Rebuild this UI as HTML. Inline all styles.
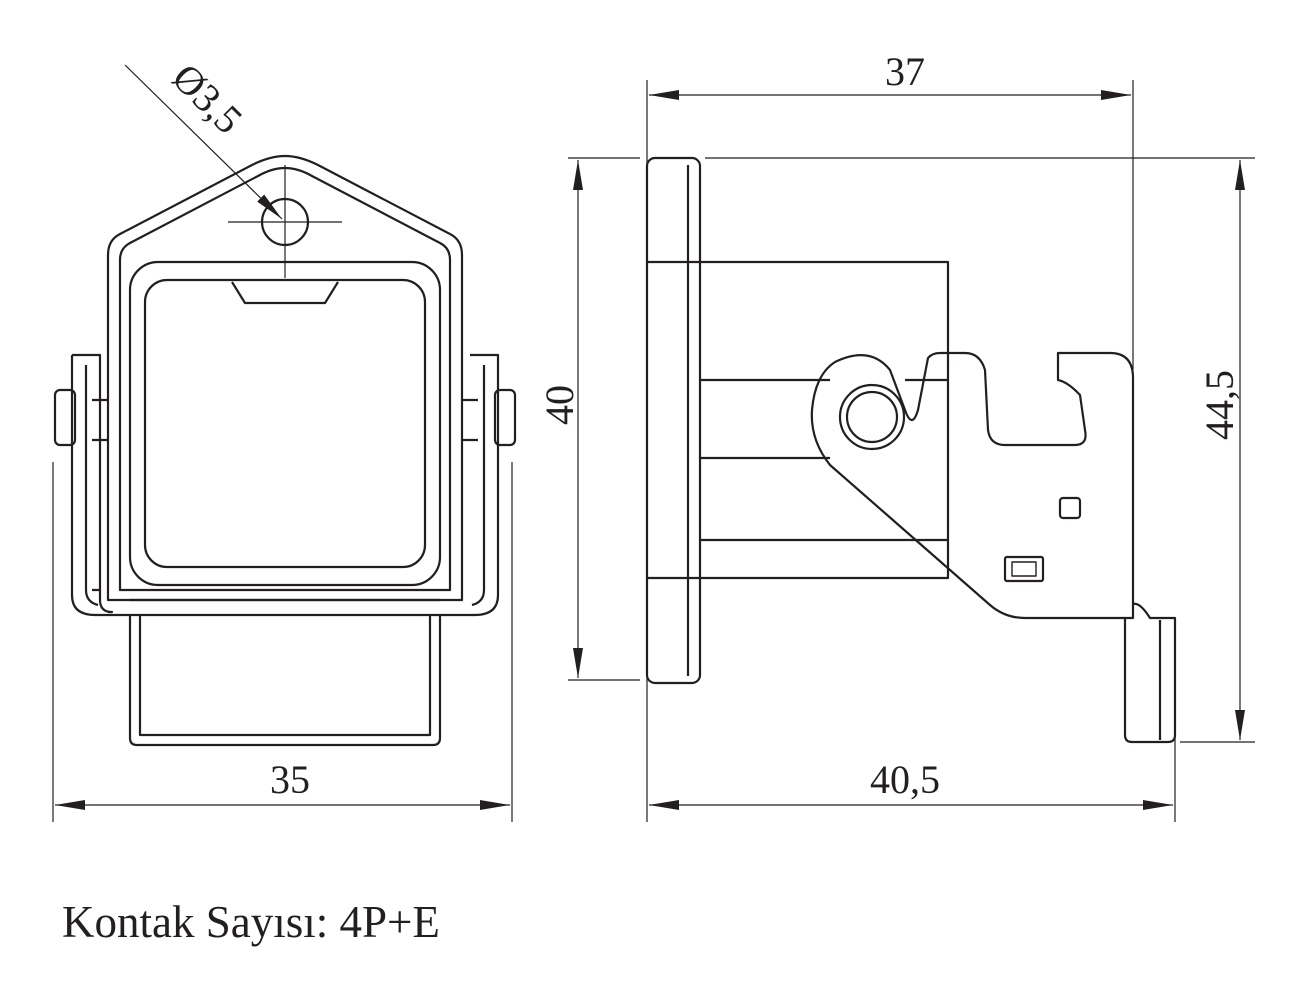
<!DOCTYPE html>
<html><head><meta charset="utf-8"><style>
html,body{margin:0;padding:0;background:#fff;}
svg{display:block}
text{font-family:"Liberation Serif",serif;fill:#231f20}
</style></head><body>
<svg width="1310" height="1000" viewBox="0 0 1310 1000" xmlns="http://www.w3.org/2000/svg">
<defs>
<marker id="a" viewBox="0 0 30 10" refX="30" refY="5" markerWidth="30" markerHeight="10" markerUnits="userSpaceOnUse" orient="auto"><path d="M0,0 L30,5 L0,10 z" fill="#231f20"/></marker>
</defs>
<g fill="none" stroke="#231f20" stroke-width="2.2" stroke-linejoin="round">
<path d="M108,255 L108,600 L462,600 L462,255 Q462,240 450,234 L318,165 Q300,156 285,156 Q270,156 252,165 L120,234 Q108,240 108,255 Z"/>
<path d="M120,260 L120,590 L450,590 L450,260 Q450,248 440,243 L312,176 Q298,168 285,168 Q272,168 258,176 L130,243 Q120,248 120,260 Z"/>
<rect x="130" y="262" width="310" height="323" rx="28"/>
<rect x="145" y="280" width="280" height="287" rx="22"/>
<path d="M232,282 L245,303 L325,303 L338,282"/>
<path d="M72,355 L100,355 L100,600 Q100,612 112,612 L108,612"/>
<path d="M72,355 L72,595 Q72,615 95,615 L475,615 Q498,615 498,595 L498,355 L470,355"/>
<path d="M86,365 L86,590 Q86,602 98,605"/>
<path d="M484,365 L484,590 Q484,602 472,605"/>
<rect x="55" y="390" width="20" height="55" rx="5"/>
<rect x="495" y="390" width="20" height="55" rx="5"/>
<path d="M92,400 L108,400 M92,440 L108,440 M462,400 L478,400 M462,440 L478,440"/>
<path d="M130,600 L440,600 M100,590 L92,590"/>
<path d="M130,615 L130,738 Q130,745 137,745 L433,745 Q440,745 440,738 L440,615"/>
<path d="M140,615 L140,735 L430,735 L430,615"/>
<circle cx="285" cy="222" r="23"/>
<g stroke-width="1.2">
<path d="M228,222 L342,222 M285,165 L285,278"/>
<path d="M125,65 L282,219" marker-end="url(#a)"/>
<path d="M53,462 L53,822 M512,462 L512,822"/>
<path d="M290,805 L55,805" marker-end="url(#a)"/>
<path d="M290,805 L510,805" marker-end="url(#a)"/>
</g>
<rect x="647" y="158" width="53" height="525" rx="8"/>
<path d="M688,165 L688,676"/>
<path d="M700,262 L948,262 L948,578 L700,578"/>
<path d="M700,380 L830,380 M700,458 L830,458 M905,380 L948,380 M700,540 L948,540"/>
<path d="M647,262 L700,262 M647,578 L700,578"/>
<path d="M835,362 Q870,345 890,370 L905,410 Q912,430 918,410 L928,358 Q932,353 940,353 L965,353 Q980,353 985,370 L988,430 Q990,445 1005,445 L1075,445 Q1088,445 1085,430 L1080,395 Q1068,382 1058,380 L1058,353 L1110,353 Q1133,353 1133,378 L1133,618 L1025,618 Q1005,618 990,605 L830,465 Q810,440 812,410 Q815,375 835,362 Z"/>
<circle cx="872" cy="417" r="32"/>
<circle cx="872" cy="417" r="25"/>
<rect x="1060" y="498" width="20" height="20" rx="3"/>
<rect x="1005" y="557" width="38" height="24" rx="2"/>
<path d="M1012,562 L1036,562 L1036,576 L1012,576 Z" stroke-width="1.4"/>
<path d="M1125,618 L1125,735 Q1125,742 1132,742 L1168,742 Q1175,742 1175,735 L1175,618 L1150,618 Q1140,602 1133,604"/>
<path d="M1160,620 L1160,740"/>
<g stroke-width="1.2">
<path d="M647,80 L647,822 M1133,80 L1133,370 M1175,620 L1175,822"/>
<path d="M705,158 L1255,158 M1180,742 L1255,742 M568,158 L640,158 M568,680 L640,680"/>
<path d="M890,95 L649,95" marker-end="url(#a)"/>
<path d="M890,95 L1131,95" marker-end="url(#a)"/>
<path d="M578,400 L578,160" marker-end="url(#a)"/>
<path d="M578,400 L578,678" marker-end="url(#a)"/>
<path d="M1240,400 L1240,160" marker-end="url(#a)"/>
<path d="M1240,400 L1240,740" marker-end="url(#a)"/>
<path d="M900,805 L649,805" marker-end="url(#a)"/>
<path d="M900,805 L1173,805" marker-end="url(#a)"/>
</g>
</g>
<text x="290" y="793" font-size="40" text-anchor="middle">35</text>
<text x="905" y="85" font-size="40" text-anchor="middle">37</text>
<text x="905" y="793" font-size="40" text-anchor="middle">40,5</text>
<text transform="translate(573,405) rotate(-90)" font-size="40" text-anchor="middle">40</text>
<text transform="translate(1233,405) rotate(-90)" font-size="40" text-anchor="middle">44,5</text>
<text transform="translate(198,108) rotate(45)" font-size="40" text-anchor="middle">Ø3,5</text>
<text x="62" y="937" font-size="45">Kontak Sayısı: 4P+E</text>
</svg>
</body></html>
